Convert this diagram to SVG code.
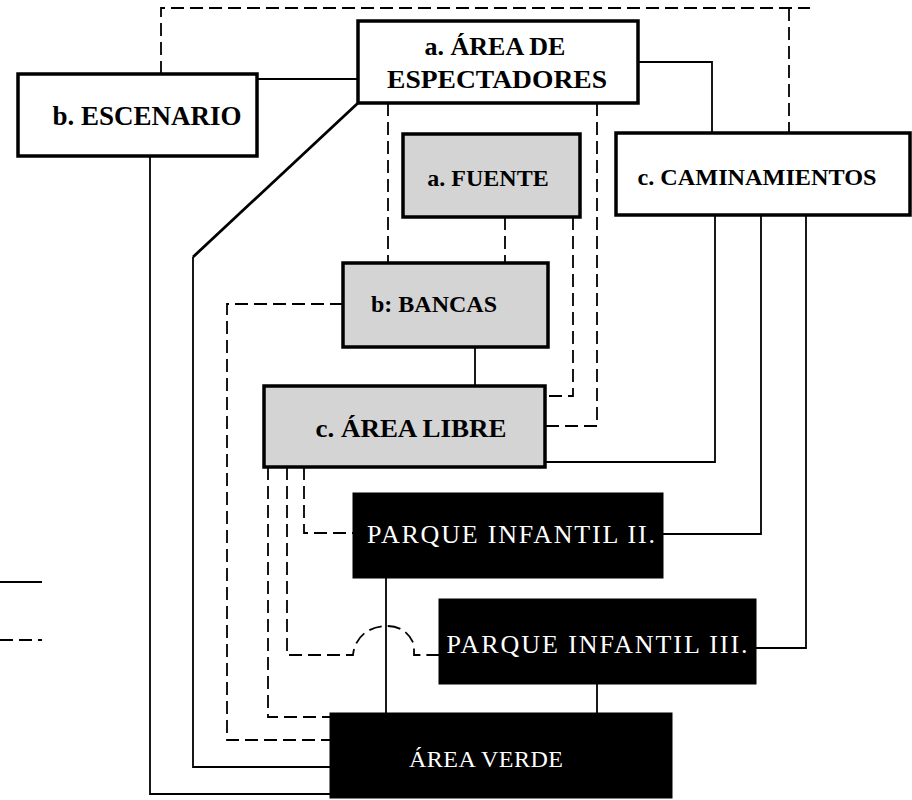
<svg xmlns="http://www.w3.org/2000/svg" width="912" height="800" viewBox="0 0 912 800">
<style>
.box{fill:#fff;stroke:#000;stroke-width:3.5}
.gray{fill:#d4d4d4;stroke:#000;stroke-width:3.5}
.dark{fill:#000;stroke:#000;stroke-width:1}
.lbl{font-family:"Liberation Serif","Times New Roman",serif;font-weight:bold;fill:#000;text-anchor:middle}
.wlbl{font-family:"Liberation Serif","Times New Roman",serif;font-weight:normal;fill:#fff;text-anchor:middle}
.s{fill:none;stroke:#000;stroke-width:1.8}
.d{fill:none;stroke:#000;stroke-width:1.8;stroke-dasharray:13 6}
</style>
<rect width="912" height="800" fill="#fff"/>
<g id="connectors">
  <path class="d" d="M161,74 V8 H810 M789,8 V132"/>
  <path class="s" d="M257,79 H358"/>
  <path class="s" d="M638,62 H712 V133"/>
  <path class="s" style="stroke-width:2.8" d="M358,103 L193,257"/>
  <path class="s" d="M193,257 V767 H330"/>
  <path class="s" d="M150,156 V794 H330"/>
  <path class="d" d="M388,103 V263"/>
  <path class="d" d="M597,103 V426 H545"/>
  <path class="d" d="M505,217 V263"/>
  <path class="d" d="M573,217 V396 H545"/>
  <path class="d" d="M343,304 H227 V740 H330"/>
  <path class="s" d="M475,347 V386"/>
  <path class="s" d="M715,215 V462 H545"/>
  <path class="s" d="M761,215 V534 H663"/>
  <path class="s" d="M806,215 V648 H756"/>
  <path class="d" d="M304,467 V533 H353"/>
  <path class="d" d="M287,467 V655 H353 C355,636 370,626 387,626 C400,626 410,633 414,645 V655 H439"/>
  <path class="d" d="M268,467 V717 H330"/>
  <path class="s" d="M386,578 V713"/>
  <path class="s" d="M597,684 V713"/>
  <path class="s" d="M0,582 H42"/>
  <path class="d" d="M0,640 H42"/>
</g>
<g id="espectadores">
  <rect class="box" x="358" y="21" width="280" height="82"/>
  <text class="lbl" x="495" y="55" font-size="26">a. ÁREA DE</text>
  <text class="lbl" x="497" y="88" font-size="26" textLength="220" lengthAdjust="spacingAndGlyphs">ESPECTADORES</text>
</g>
<g id="escenario">
  <rect class="box" x="18" y="74" width="239" height="82"/>
  <text class="lbl" x="147" y="125" font-size="27">b. ESCENARIO</text>
</g>
<g id="caminamientos">
  <rect class="box" x="616" y="133" width="294" height="82"/>
  <text class="lbl" x="757" y="185" font-size="24" textLength="239" lengthAdjust="spacingAndGlyphs">c. CAMINAMIENTOS</text>
</g>
<g id="fuente">
  <rect class="gray" x="403" y="134" width="177" height="83"/>
  <text class="lbl" x="488" y="186" font-size="24">a. FUENTE</text>
</g>
<g id="bancas">
  <rect class="gray" x="343" y="263" width="205" height="84"/>
  <text class="lbl" x="434" y="312" font-size="24">b: BANCAS</text>
</g>
<g id="area-libre">
  <rect class="gray" x="264" y="386" width="281" height="81"/>
  <text class="lbl" x="411" y="437" font-size="25" textLength="191" lengthAdjust="spacingAndGlyphs">c. ÁREA LIBRE</text>
</g>
<g id="parque2">
  <rect class="dark" x="353" y="493" width="310" height="85"/>
  <text class="wlbl" x="511" y="543" font-size="26" textLength="288" lengthAdjust="spacing">PARQUE INFANTIL II.</text>
</g>
<g id="parque3">
  <rect class="dark" x="439" y="599" width="317" height="85"/>
  <text class="wlbl" x="597" y="653" font-size="26" textLength="301" lengthAdjust="spacing">PARQUE INFANTIL III.</text>
</g>
<g id="area-verde">
  <rect class="dark" x="330" y="713" width="342" height="85"/>
  <text class="wlbl" x="486" y="767" font-size="24" textLength="154" lengthAdjust="spacing">ÁREA VERDE</text>
</g>
</svg>
